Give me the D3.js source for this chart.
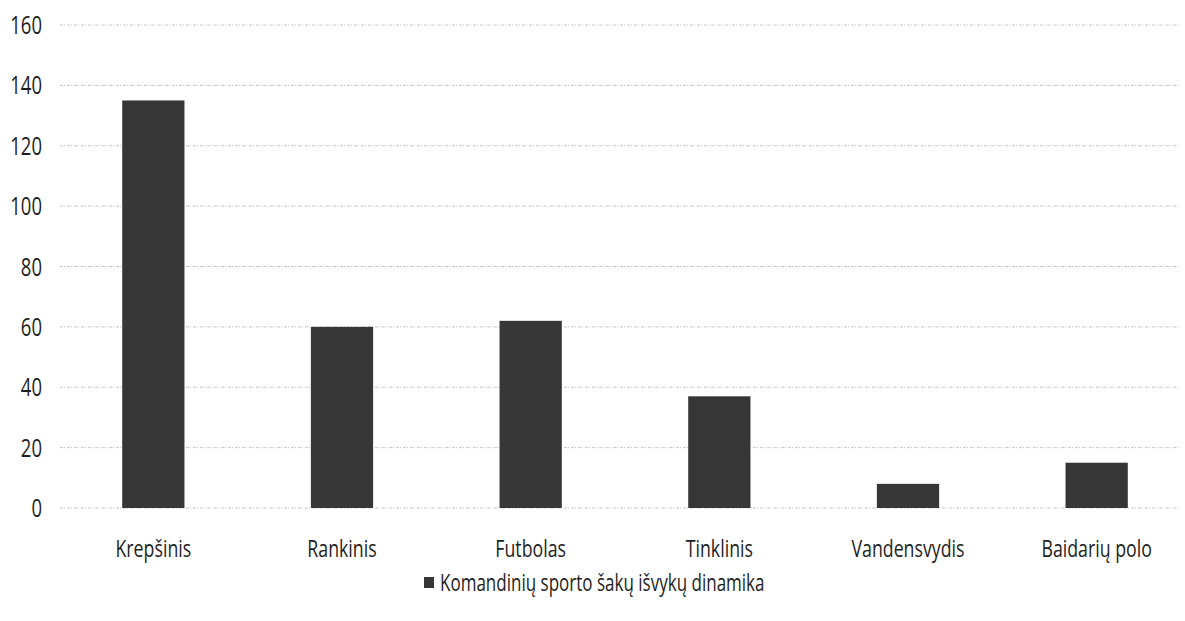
<!DOCTYPE html>
<meta charset="utf-8">
<style>
body { margin: 0; background: #fff; }
text { font-family: "Open Sans", "Noto Sans", sans-serif; fill: #1e1e1e; }
</style>
<body>
<div id="chart"></div>
<script src="https://cdnjs.cloudflare.com/ajax/libs/d3/7.8.5/d3.min.js"></script>
<script>
// data
var categories = ["Krepšinis", "Rankinis", "Futbolas", "Tinklinis", "Vandensvydis", "Baidarių polo"];
var values = [135, 60, 62, 37, 8, 15];
var yTicks = [0, 20, 40, 60, 80, 100, 120, 140, 160];
var seriesName = "Komandinių sporto šakų išvykų dinamika";

var width = 1185, height = 621;
var squeeze = 0.74; // the scanned text is narrow and tall

var svg = d3.select("#chart").append("svg")
    .attr("width", width).attr("height", height);

var x = d3.scaleBand().domain(categories).range([59, 1191]).paddingInner(0.67).paddingOuter(0.335);
var y = d3.scaleLinear().domain([0, 160]).range([508, 25]);

// gridlines
svg.append("g").selectAll("line")
   .data(yTicks).enter().append("line")
   .attr("x1", 60).attr("x2", 1178)
   .attr("y1", function(d) { return y(d); })
   .attr("y2", function(d) { return y(d); })
   .attr("stroke", "#c4c4c4")
   .attr("stroke-width", 1)
   .attr("stroke-dasharray", "3,1,1,2");

// y labels
svg.append("g").selectAll("text")
   .data(yTicks).enter().append("text")
   .attr("transform", function(d) { return "translate(42," + (y(d) + 9) + ") scale(" + squeeze + ",1)"; })
   .attr("text-anchor", "end")
   .attr("font-size", 25)
   .text(function(d) { return d; });

// bars
svg.append("g").selectAll("rect")
   .data(values).enter().append("rect")
   .attr("x", function(d, i) { return x(categories[i]); })
   .attr("y", function(d) { return y(d); })
   .attr("width", x.bandwidth())
   .attr("height", function(d) { return y(0) - y(d); })
   .attr("fill", "#363636");

// x labels
svg.append("g").selectAll("text")
   .data(categories).enter().append("text")
   .attr("transform", function(d) { return "translate(" + (x(d) + x.bandwidth() / 2) + ",557) scale(" + squeeze + ",1)"; })
   .attr("text-anchor", "middle")
   .attr("font-size", 24)
   .text(function(d) { return d; });

// legend
var legend = svg.append("g");
legend.append("rect")
   .attr("x", 424).attr("y", 577)
   .attr("width", 10).attr("height", 11)
   .attr("fill", "#363636");
legend.append("text")
   .attr("transform", "translate(440,591) scale(0.74,1)")
   .attr("font-size", 23)
   .text(seriesName);
</script>
